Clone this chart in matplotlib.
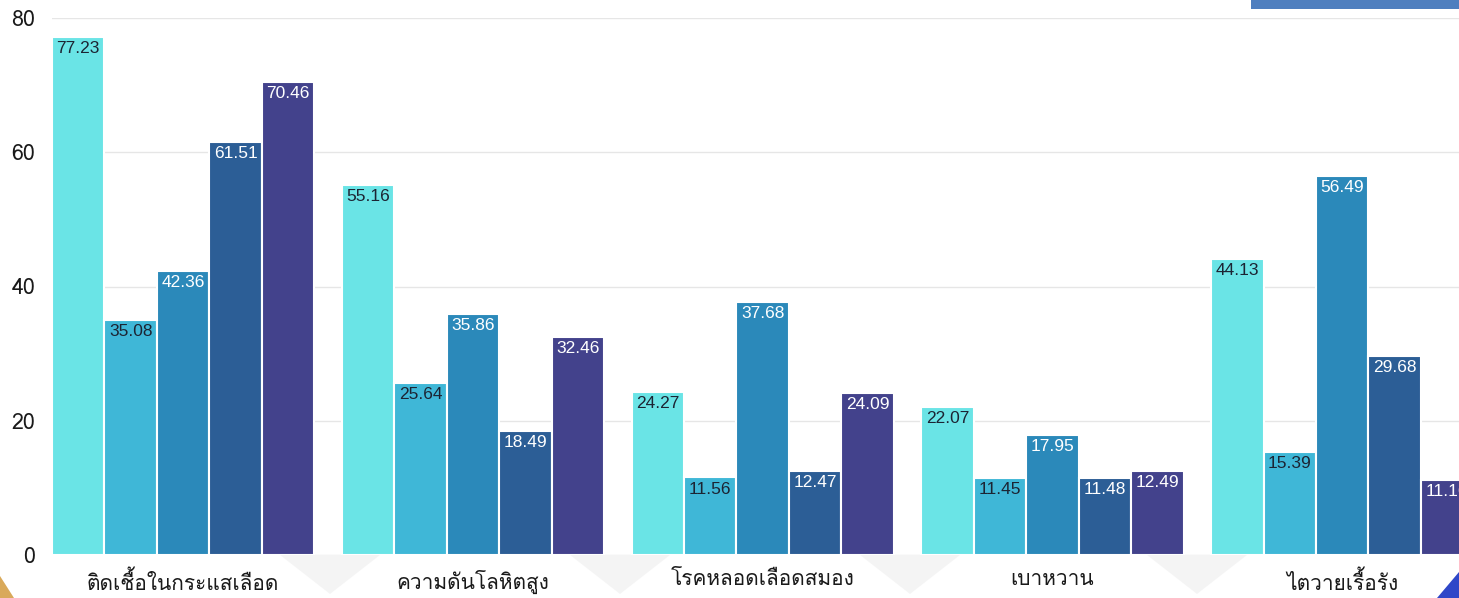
import matplotlib.pyplot as plt
import numpy as np
from matplotlib import font_manager
from matplotlib.patches import Polygon, Rectangle

categories = ['ติดเชื้อในกระแสเลือด', 'ความดันโลหิตสูง', 'โรคหลอดเลือดสมอง', 'เบาหวาน', 'ไตวายเรื้อรัง']
series_1 = [77.23, 55.16, 24.27, 22.07, 44.13]
series_2 = [35.08, 25.64, 11.56, 11.45, 15.39]
series_3 = [42.36, 35.86, 37.68, 17.95, 56.49]
series_4 = [61.51, 18.49, 12.47, 11.48, 29.68]
series_5 = [70.46, 32.46, 24.09, 12.49, 11.16]
yticks = [0, 20, 40, 60, 80]

colors = ['#6ae4e6', '#3fb7d7', '#2b89ba', '#2c5e96', '#43428c']
text_colors = ['#1c2433', '#1c2433', 'white', 'white', 'white']

# pick any installed font that can draw Thai
thai = [f.name for f in font_manager.fontManager.ttflist
        if 'thai' in f.name.lower() or f.name in ('Loma', 'Garuda', 'Kinnari', 'Norasi', 'Sarabun', 'Waree', 'Umpush')]
families = list(dict.fromkeys(thai)) + ['Noto Sans', 'DejaVu Sans']
plt.rcParams['font.family'] = families

fig = plt.figure(figsize=(14.59, 5.98), dpi=100)
ax = fig.add_axes([52 / 1459, 43 / 598, 1 - 52 / 1459, 537 / 598])

x = np.arange(len(categories))
w = 0.181
all_series = [series_1, series_2, series_3, series_4, series_5]
for j, vals in enumerate(all_series):
    pos = x + (j - 2) * w
    bars = ax.bar(pos, vals, w, color=colors[j], edgecolor='white', linewidth=1.5, zorder=3)
    for b, v in zip(bars, vals):
        ax.annotate(f'{v:.2f}', (b.get_x() + b.get_width() / 2, v), xytext=(0, -3),
                    textcoords='offset points', ha='center', va='top',
                    fontsize=12.5, color=text_colors[j], zorder=4,
                    family=['Liberation Sans', 'DejaVu Sans'])

ax.set_xlim(-2.5 * w, 4.403)
ax.set_ylim(0, 80)
ax.set_yticks(yticks)
ax.set_yticklabels([str(t) for t in yticks], fontsize=15.5, color='#1a1a1a')
ax.tick_params(axis='y', length=0, pad=12)
ax.set_xticks(x)
ax.set_xticklabels(categories, fontsize=15, color='#1a1a1a')
ax.tick_params(axis='x', length=0, pad=11)
ax.grid(axis='y', color='#e6e6e6', linewidth=1, zorder=0)
for s in ax.spines.values():
    s.set_visible(False)

# background decorations
for cx in [330, 620, 910, 1197]:
    fig.patches.append(Polygon([[(cx - 50) / 1459, 43 / 598], [(cx + 50) / 1459, 43 / 598],
                                [cx / 1459, 4 / 598]], closed=True, transform=fig.transFigure,
                               facecolor='#eeeeee', edgecolor='none', alpha=0.6, zorder=0))
fig.patches.append(Polygon([[0, 0], [14 / 1459, 0], [0, 22 / 598]], closed=True,
                           transform=fig.transFigure, facecolor='#d9a95a', edgecolor='none'))
fig.patches.append(Polygon([[1437 / 1459, 0], [1, 0], [1, 26 / 598]], closed=True,
                           transform=fig.transFigure, facecolor='#2f47c8', edgecolor='none'))
fig.patches.append(Rectangle((1251 / 1459, 589 / 598), 208 / 1459, 9 / 598,
                             transform=fig.transFigure, facecolor='#4f7fbf', edgecolor='none'))

fig.savefig('out.png', dpi=100)
